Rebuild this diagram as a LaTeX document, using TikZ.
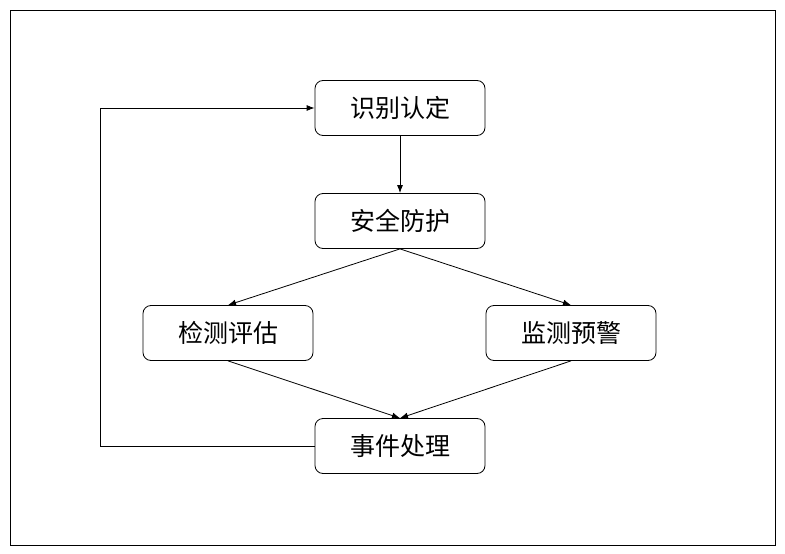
\documentclass[tikz,border=0pt]{standalone}
\usepackage{fontspec}
\setmainfont{Noto Sans CJK SC}
\usetikzlibrary{arrows.meta}
\begin{document}
\begin{tikzpicture}[x=1pt,y=-1pt,
  box/.style={draw,rounded corners=8pt,minimum width=170pt,minimum height=55pt,font=\fontsize{25}{28}\selectfont,line width=0.8pt},
  arr/.style={-{Latex[length=8pt,width=6pt]},line width=0.8pt}]
\useasboundingbox (0,0) rectangle (785,554);
\draw[line width=1pt] (10,10) rectangle (775,545);
\node[box] (a) at (400,108) {识别认定};
\node[box] (b) at (400,221) {安全防护};
\node[box] (c) at (228,333) {检测评估};
\node[box] (d) at (571,333) {监测预警};
\node[box] (e) at (400,446) {事件处理};
\draw[arr] (a) -- (b);
\draw[arr] (b.south) -- (c.north);
\draw[arr] (b.south) -- (d.north);
\draw[arr] (c.south) -- (e.north);
\draw[arr] (d.south) -- (e.north);
\draw[arr] (e.west) -- (100,446) -- (100,108) -- (a.west);
\end{tikzpicture}
\end{document}
